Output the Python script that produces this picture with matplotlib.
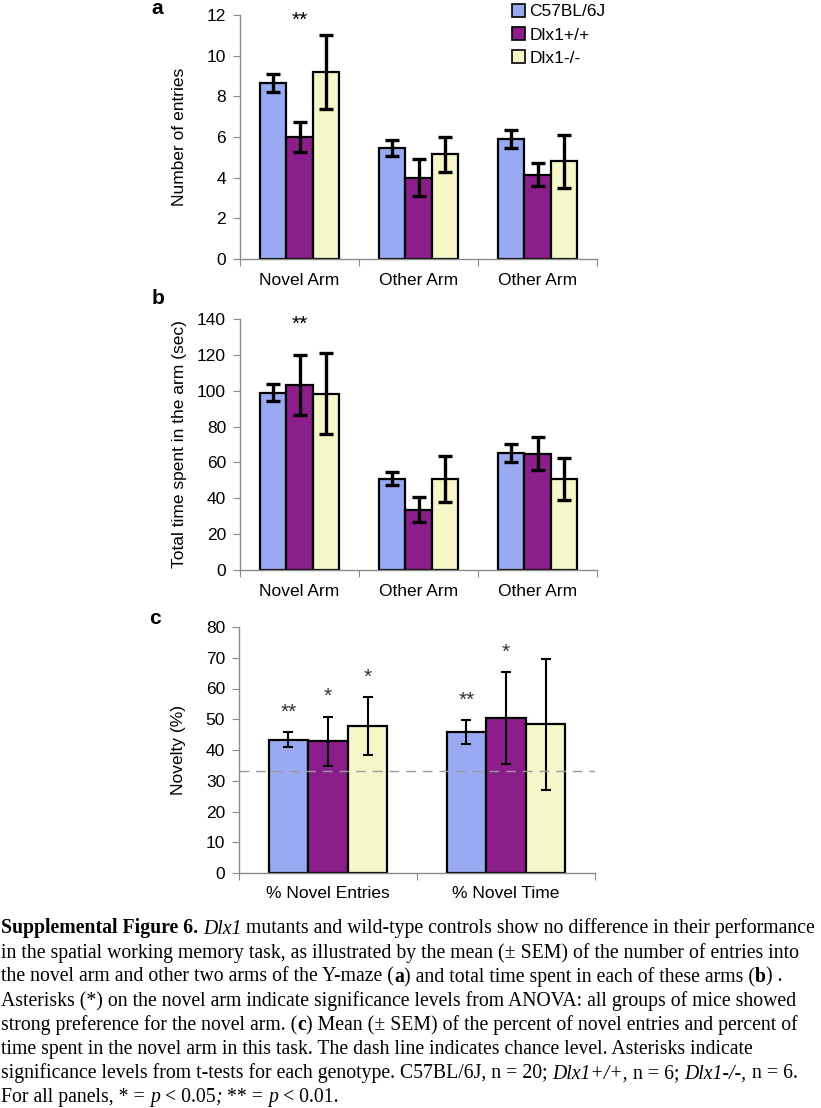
import matplotlib
matplotlib.use('Agg')
import matplotlib.pyplot as plt
import matplotlib.transforms as transforms
from matplotlib.patches import Patch
import numpy as np

# --- data ---
GENOTYPES = ['C57BL/6J', 'Dlx1+/+', 'Dlx1-/-']
COLORS = ['#9AAAF2', '#8C1E8C', '#F5F7C8']

ARMS = ['Novel Arm', 'Other Arm', 'Other Arm']
ENTRIES = [[8.65, 5.45, 5.9], [6.0, 4.0, 4.15], [9.2, 5.15, 4.8]]
ENTRIES_SEM = [[0.45, 0.4, 0.45], [0.75, 0.9, 0.57], [1.8, 0.87, 1.3]]

TIME = [[99.0, 51.0, 65.3], [103.2, 33.6, 64.9], [98.3, 50.8, 50.8]]
TIME_SEM = [[4.6, 3.8, 4.8], [16.5, 6.9, 9.2], [22.7, 12.9, 11.5]]

MEASURES = ['% Novel Entries', '% Novel Time']
NOVELTY = [[43.4, 45.8], [42.8, 50.4], [47.7, 48.3]]
NOVELTY_SEM = [[2.3, 4.0], [8.0, 15.0], [9.4, 21.2]]
NOVELTY_STARS = [['**', '**'], ['*', '*'], ['*', '']]
CHANCE = 33.3

CAPTION = [
    [('Supplemental Figure 6.', 'b'), (' ', 'r'), ('Dlx1', 'i'),
     (' mutants and wild-type controls show no difference in their performance', 'r')],
    [('in the spatial working memory task, as illustrated by the mean (\u00b1 SEM) of the number of entries into', 'r')],
    [('the novel arm and other two arms of the Y-maze (', 'r'), ('a', 'b'),
     (') and total time spent in each of these arms (', 'r'), ('b', 'b'), (') .', 'r')],
    [('Asterisks (*) on the novel arm indicate significance levels from ANOVA: all groups of mice showed', 'r')],
    [('strong preference for the novel arm. (', 'r'), ('c', 'b'),
     (') Mean (\u00b1 SEM) of the percent of novel entries and percent of', 'r')],
    [('time spent in the novel arm in this task. The dash line indicates chance level. Asterisks indicate', 'r')],
    [('significance levels from t-tests for each genotype. C57BL/6J, n = 20; ', 'r'), ('Dlx1+/+,', 'i'),
     (' n = 6; ', 'r'), ('Dlx1-/-,', 'i'), (' n = 6.', 'r')],
    [('For all panels, * = ', 'r'), ('p', 'i'), (' < 0.05', 'r'), (';', 'i'), (' ** = ', 'r'),
     ('p', 'i'), (' < 0.01.', 'r')],
]

W, H = 821, 1108
plt.rcParams['font.family'] = ['Liberation Sans', 'DejaVu Sans']
SPINE = '#8a8a8a'


def px_axes(fig, left, top, right, bottom):
    return fig.add_axes([left / W, 1 - bottom / H, (right - left) / W, (bottom - top) / H])


def bar_panel(ax, vals, sems, cats, ylim, yticks, ylabel, err_lw, capsize, width):
    n = len(cats)
    x = np.arange(n)
    for i, (v, s) in enumerate(zip(vals, sems)):
        xs = x + (i - 1) * width
        ax.bar(xs, v, width=width, color=COLORS[i], edgecolor='black', linewidth=1.6, zorder=2)
        ax.errorbar(xs, v, yerr=s, fmt='none', ecolor='black', elinewidth=err_lw,
                    capsize=capsize, capthick=err_lw, zorder=3)
    ax.set_xlim(-0.5, n - 0.5)
    ax.set_ylim(*ylim)
    ax.set_yticks(yticks)
    ax.set_xticks(np.arange(n + 1) - 0.5)
    ax.set_xticklabels([])
    ax.set_xticks(x, minor=True)
    ax.set_xticklabels(cats, minor=True, fontsize=12.5)
    ax.tick_params(axis='x', which='minor', length=0, pad=10)
    ax.tick_params(axis='x', which='major', length=5, color=SPINE, direction='out')
    ax.tick_params(axis='y', length=5, color=SPINE, labelsize=12.5, pad=5)
    for side in ('top', 'right'):
        ax.spines[side].set_visible(False)
    for side in ('left', 'bottom'):
        ax.spines[side].set_color(SPINE)
        ax.spines[side].set_linewidth(1.0)
    ax.set_ylabel(ylabel, fontsize=12.5)
    ax.yaxis.set_label_coords(-0.148, 0.5)


fig = plt.figure(figsize=(W / 100, H / 100), dpi=100)

# panel a
ax_a = px_axes(fig, 240, 15, 597, 259)
bar_panel(ax_a, ENTRIES, ENTRIES_SEM, ARMS, (0, 12), range(0, 13, 2),
          'Number of entries', 2.4, 5, 0.224)
trans = transforms.blended_transform_factory(ax_a.transData, ax_a.transAxes)
ax_a.text(0, 0.98, '**', transform=trans, ha='center', va='center', fontsize=15)
ax_a.legend(handles=[Patch(facecolor=c, edgecolor='black', linewidth=1.2) for c in COLORS],
            labels=GENOTYPES, loc='upper left', bbox_to_anchor=(512 / W, 1 - 4 / H),
            bbox_transform=fig.transFigure, frameon=False, fontsize=12.5,
            handlelength=0.75, handleheight=0.75, handletextpad=0.25,
            labelspacing=0.45, borderpad=0, borderaxespad=0)

# panel b
ax_b = px_axes(fig, 240, 319, 597, 570)
bar_panel(ax_b, TIME, TIME_SEM, ARMS, (0, 140), range(0, 141, 20),
          'Total time spent in the arm (sec)', 2.4, 5, 0.224)
trans = transforms.blended_transform_factory(ax_b.transData, ax_b.transAxes)
ax_b.text(0, 0.98, '**', transform=trans, ha='center', va='center', fontsize=15)

# panel c
ax_c = px_axes(fig, 239, 627, 595, 873)
bar_panel(ax_c, NOVELTY, NOVELTY_SEM, MEASURES, (0, 80), range(0, 81, 10),
          'Novelty (%)', 1.5, 3.5, 0.222)
ax_c.tick_params(axis='x', which='minor', pad=9)
ax_c.axhline(CHANCE, color='#9a9a9a', linewidth=1.0, dashes=(7, 5), zorder=4)
for i, (v, s, st) in enumerate(zip(NOVELTY, NOVELTY_SEM, NOVELTY_STARS)):
    for j in range(len(MEASURES)):
        if st[j]:
            ax_c.text(j + (i - 1) * 0.222, v[j] + s[j] + 6.5, st[j], ha='center', va='center',
                      fontsize=15, color='#333333')

# panel letters
for lab, (px, py) in zip('abc', [(157, 8), (158, 298), (155, 618)]):
    fig.text(px / W, 1 - py / H, lab, fontsize=15, fontweight='bold', ha='center', va='center')

# caption
renderer = fig.canvas.get_renderer()
CAP_SIZE = 14.2


def seg_width(txt, style):
    kw = dict(fontsize=CAP_SIZE, family='Liberation Serif',
              fontweight='bold' if style == 'b' else 'normal',
              fontstyle='italic' if style == 'i' else 'normal')
    core = txt.strip(' ')
    n_sp = len(txt) - len(core)
    t1 = fig.text(0, 0, 'a a', **kw)
    t2 = fig.text(0, 0, 'aa', **kw)
    sp = t1.get_window_extent(renderer).width - t2.get_window_extent(renderer).width
    t1.remove()
    t2.remove()
    w = 0
    if core:
        t = fig.text(0, 0, core, **kw)
        w = t.get_window_extent(renderer).width
        t.remove()
    lead = len(txt) - len(txt.lstrip(' '))
    return w + n_sp * sp, lead * sp, kw


for k, line in enumerate(CAPTION):
    x = 1.0
    y = 933.5 + k * 24.1
    for txt, style in line:
        w, lead, kw = seg_width(txt, style)
        if txt.strip(' '):
            fig.text((x + lead) / W, 1 - y / H, txt.strip(' '), ha='left', va='baseline', **kw)
        x += w

fig.savefig('out.png', dpi=100)
